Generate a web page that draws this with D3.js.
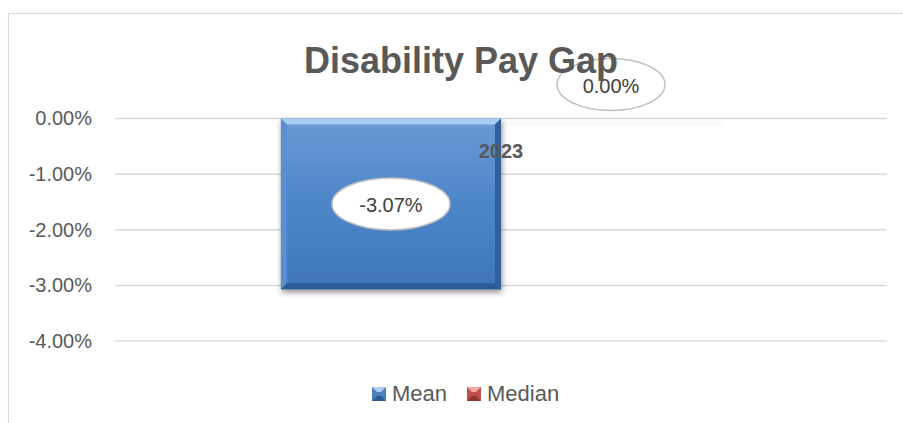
<!DOCTYPE html>
<html>
<head>
<meta charset="utf-8">
<script src="https://cdn.jsdelivr.net/npm/d3@7"></script>
<style>
  body { margin: 0; background: #fff; }
  svg { display: block; }
  text { font-family: "Liberation Sans", Arial, sans-serif; }
</style>
</head>
<body>
<div id="chart"></div>
<script>
// data
const categories = ["2023"]
const seriesNames = ["Mean", "Median"]
const meanValues = [-3.07]
const medianValues = [0.00]
const yTicks = [0, -1, -2, -3, -4]
const titleText = "Disability Pay Gap"

const seriesColors = {Mean: "#4f81bd", Median: "#c0504d"}
const pct = d => d.toFixed(2) + "%"

const chart = function (id) {
    const width = 903
    const height = 423
    const margin = {top: 118.5, right: 16, bottom: 82, left: 115}

    const svg = d3.select("#" + id)
        .append("svg")
        .attr("width", width)
        .attr("height", height)

    const defs = svg.append("defs")
    const shadow = defs.append("filter").attr("id", "shadow")
        .attr("x", "-10%").attr("y", "-10%").attr("width", "130%").attr("height", "140%")
    shadow.append("feGaussianBlur").attr("stdDeviation", 3)

    const faceGrad = defs.append("linearGradient").attr("id", "face-mean")
        .attr("x1", 0).attr("y1", 0).attr("x2", 0).attr("y2", 1)
    faceGrad.append("stop").attr("offset", "0%").attr("stop-color", "#6c9ad4")
    faceGrad.append("stop").attr("offset", "50%").attr("stop-color", "#4c86c9")
    faceGrad.append("stop").attr("offset", "100%").attr("stop-color", "#3f76bb")

    const layer_frame = svg.append("g")
    const layer_grid = svg.append("g")
    const layer_y_axis = svg.append("g")
    const layer_bars = svg.append("g")
    const layer_labels = svg.append("g")
    const layer_legend = svg.append("g")
    const layer_title = svg.append("g")

    layer_frame.append("rect")
        .attr("x", 8.5).attr("y", 13.5)
        .attr("width", width).attr("height", height)
        .attr("fill", "none")
        .attr("stroke", "#d9d9d9")
        .attr("stroke-width", 1.2)

    const y = d3.scaleLinear()
        .domain([-4, 0])
        .range([341, margin.top])

    const x0 = d3.scaleBand()
        .domain(categories)
        .range([margin.left, width - margin.right])
        .paddingInner(0)
        .paddingOuter(0.377)

    const x1 = d3.scaleBand()
        .domain(seriesNames)
        .range([0, x0.bandwidth()])

    // gridlines
    layer_grid.selectAll("line")
        .data(yTicks)
        .enter().append("line")
        .attr("x1", margin.left)
        .attr("x2", width - margin.right)
        .attr("y1", d => y(d))
        .attr("y2", d => y(d))
        .attr("stroke", "#d9d9d9")
        .attr("stroke-width", 1.5)

    // y axis labels
    layer_y_axis
        .attr("transform", `translate(${margin.left},0)`)
        .call(d3.axisLeft(y).tickValues(yTicks).tickSize(0).tickPadding(23).tickFormat(pct))
        .call(g => g.select(".domain").remove())
        .selectAll("text")
        .style("font-size", "20px")
        .attr("fill", "#595959")

    const rows = []
    categories.forEach((c, i) => {
        rows.push({cat: c, series: "Mean", value: meanValues[i]})
        rows.push({cat: c, series: "Median", value: medianValues[i]})
    })

    const bev = 6
    rows.forEach(d => {
        const x = x0(d.cat) + x1(d.series)
        const w = x1.bandwidth()
        const top = y(Math.max(0, d.value))
        const bottom = y(Math.min(0, d.value))
        const h = bottom - top
        const g = layer_bars.append("g")

        // soft shadow under the bar
        g.append("rect")
            .attr("x", x + 1).attr("y", top + 3)
            .attr("width", w).attr("height", Math.max(h, 3))
            .attr("fill", "#000")
            .attr("opacity", d.value === 0 ? 0.07 : 0.45)
            .attr("filter", "url(#shadow)")

        if (h <= 0) return

        g.append("rect")
            .attr("x", x).attr("y", top)
            .attr("width", w).attr("height", h)
            .attr("fill", "url(#face-" + d.series.toLowerCase() + ")")

        const x2 = x + w, y2 = bottom
        const poly = (pts, fill) => g.append("polygon")
            .attr("points", pts.map(p => p.join(",")).join(" "))
            .attr("fill", fill)
        poly([[x, top], [x2, top], [x2 - bev, top + bev], [x + bev, top + bev]], "#a9ccf1")
        poly([[x, top], [x + bev, top + bev], [x + bev, y2 - bev], [x, y2]], "#5b8fd0")
        poly([[x2, top], [x2, y2], [x2 - bev, y2 - bev], [x2 - bev, top + bev]], "#2f5f9c")
        poly([[x, y2], [x + bev, y2 - bev], [x2 - bev, y2 - bev], [x2, y2]], "#2d5b94")
    })

    // data labels in ellipses
    rows.forEach(d => {
        const cx = x0(d.cat) + x1(d.series) + x1.bandwidth() / 2
        const cy = d.value === 0 ? y(0) - 34 : (y(0) + y(d.value)) / 2
        const rx = d.value === 0 ? 54 : 59
        layer_labels.append("ellipse")
            .attr("cx", cx).attr("cy", cy)
            .attr("rx", rx).attr("ry", 26)
            .attr("fill", d.value === 0 ? "none" : "#fff")
            .attr("stroke", "#bfbfbf")
            .attr("stroke-width", 1.5)
        layer_labels.append("text")
            .attr("x", cx).attr("y", cy + 8)
            .attr("text-anchor", "middle")
            .style("font-size", "20px")
            .attr("fill", "#404040")
            .text(pct(d.value))
    })

    // category label
    layer_labels.selectAll(".cat")
        .data(categories)
        .enter().append("text")
        .attr("class", "cat")
        .attr("x", d => x0(d) + x0.bandwidth() / 2)
        .attr("y", y(0) + 39)
        .attr("text-anchor", "middle")
        .style("font-size", "20px")
        .style("font-weight", "bold")
        .attr("fill", "#595959")
        .text(d => d)

    // legend
    const legendX = [372, 467]
    const lg = layer_legend.selectAll("g")
        .data(seriesNames)
        .enter().append("g")
        .attr("transform", (d, i) => `translate(${legendX[i]},387)`)
    lg.append("rect")
        .attr("width", 14).attr("height", 14)
        .attr("fill", d => seriesColors[d])
    lg.append("polygon")
        .attr("points", "0,0 14,0 9,5 5,5")
        .attr("fill", d => d === "Mean" ? "#a9ccf1" : "#f0a8a6")
    lg.append("polygon")
        .attr("points", "0,14 14,14 9,9 5,9")
        .attr("fill", d => d === "Mean" ? "#2d5b94" : "#8c3533")
    lg.append("text")
        .attr("x", 20).attr("y", 14)
        .style("font-size", "22px")
        .attr("fill", "#595959")
        .text(d => d)

    // title
    layer_title.append("text")
        .attr("x", 461)
        .attr("y", 73)
        .attr("text-anchor", "middle")
        .style("font-size", "36px")
        .style("font-weight", "bold")
        .attr("fill", "#595959")
        .text(titleText)
}

chart("chart")
</script>
</body>
</html>
